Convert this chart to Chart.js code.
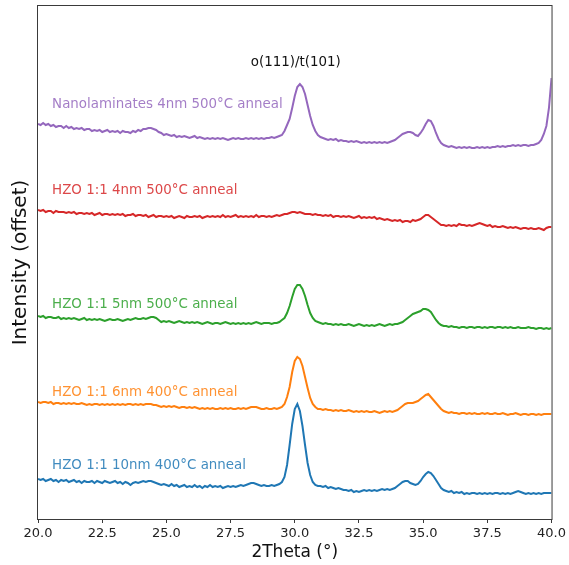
<!DOCTYPE html>
<html>
<head>
<meta charset="utf-8">
<script src="https://cdn.jsdelivr.net/npm/chart.js@4.4.1/dist/chart.umd.min.js"></script>
<style>
html,body{margin:0;padding:0;background:#fff;}
#wrap{width:569px;height:565px;}
</style>
</head>
<body>
<div id="wrap"><canvas id="c" width="569" height="565"></canvas></div>
<script>
// 2Theta sampling grid (degrees), 20.0 .. 40.0 every 0.1
const twoTheta = [];
for (let i = 0; i <= 200; i++) twoTheta.push(+(20 + i * 0.1).toFixed(1));

// x-axis tick labels
const xTickLabels = ['20.0','22.5','25.0','27.5','30.0','32.5','35.0','37.5','40.0'];

// Series names
const seriesNames = [
  'HZO 1:1 10nm 400°C anneal',
  'HZO 1:1 6nm 400°C anneal',
  'HZO 1:1 5nm 500°C anneal',
  'HZO 1:1 4nm 500°C anneal',
  'Nanolaminates 4nm 500°C anneal'
];

// Offset intensities (arbitrary units), one value per 0.1° step
const hzo10nm400 = [
 38,37,38,36,37,38,36,37,35,37,
 36,37,35,36,37,35,36,34,36,35,
 35,36,34,36,35,34,36,35,34,35,
 36,34,35,33,35,34,32,34,35,34,
 35,36,35,36,36,35,34,33,32,33,
 32,31,33,31,32,30,31,32,30,31,
 30,32,30,31,29,31,30,32,30,31,
 30,31,29,30,31,30,31,30,31,32,
 31,32,33,34,34,33,32,31,32,31,
 31,32,31,32,33,35,40,52,72,93,
 108,113,106,91,72,54,42,35,32,31,
 31,30,31,29,30,29,28,29,28,27,
 27,26,27,25,26,25,26,27,26,27,
 26,27,26,27,28,27,28,27,28,29,
 31,33,35,36,36,34,33,32,33,36,
 40,43,45,44,41,37,33,29,27,26,
 25,26,24,25,24,25,23,24,23,24,
 24,23,24,23,24,23,24,23,24,24,
 23,24,23,24,23,24,25,26,25,24,
 23,24,23,24,23,24,23,24,24,24,
 24
];
const hzo6nm400 = [
 115,114,115,115,114,115,113,114,114,113,
 114,113,114,113,114,113,113,114,113,112,
 113,112,113,113,112,113,112,113,112,113,
 112,113,112,113,112,113,113,112,113,112,
 113,112,113,113,113,112,112,111,110,111,
 110,111,110,111,110,109,110,110,109,110,
 109,110,109,108,109,108,109,108,109,108,
 108,109,108,109,108,109,108,108,109,108,
 109,108,109,110,110,110,109,108,108,109,
 108,108,109,108,109,110,113,120,130,145,
 156,160,158,151,140,129,119,113,110,108,
 108,107,108,107,107,106,107,106,107,106,
 106,107,106,105,106,105,106,105,106,105,
 105,106,105,104,105,106,105,106,105,106,
 107,109,111,113,114,114,114,115,116,118,
 120,122,123,120,117,114,111,108,106,105,
 104,105,104,104,103,104,104,103,104,103,
 104,103,103,104,103,104,103,103,104,103,
 103,104,103,102,103,103,104,103,102,103,
 103,102,103,103,102,103,102,103,103,103,
 103
];
const hzo5nm500 = [
 201,200,201,199,200,200,199,199,200,198,
 199,198,199,198,199,198,197,198,199,197,
 198,197,198,197,198,197,196,197,198,197,
 197,198,197,196,197,198,197,198,199,198,
 198,199,198,199,200,200,199,197,195,196,
 195,196,195,194,195,196,195,194,195,194,
 195,194,195,194,193,194,195,194,193,194,
 194,193,194,195,194,193,194,193,194,193,
 194,193,194,193,194,195,194,193,194,194,
 194,193,194,194,195,197,199,204,211,220,
 228,232,232,228,221,212,204,199,196,195,
 194,193,194,193,193,192,193,192,193,192,
 192,193,192,191,192,193,192,191,192,191,
 192,191,192,193,192,191,192,193,192,193,
 193,194,195,197,199,201,203,204,205,206,
 208,208,207,205,201,197,194,192,191,191,
 190,191,190,190,189,190,190,189,190,190,
 189,190,190,189,190,189,190,190,189,190,
 190,189,190,189,190,189,189,190,189,189,
 189,190,189,189,188,189,189,188,189,188,
 189
];
const hzo4nm500 = [
 307,306,307,305,306,306,304,306,305,305,
 305,304,305,304,305,303,304,304,303,304,
 303,304,302,303,304,302,303,303,302,303,
 302,303,302,303,301,302,302,303,301,302,
 302,301,302,300,301,302,300,301,301,300,
 301,300,301,299,300,301,300,299,301,300,
 300,301,300,301,299,300,301,300,301,300,
 301,300,302,300,301,300,301,302,300,301,
 300,301,300,301,300,302,300,301,301,300,
 301,300,301,302,301,302,303,303,304,305,
 305,304,305,304,303,303,303,302,303,302,
 302,301,302,301,302,300,301,301,300,301,
 300,301,300,299,300,301,299,300,299,300,
 299,300,298,299,298,297,298,297,296,297,
 296,297,295,296,296,295,297,296,297,298,
 300,302,302,300,298,296,294,292,292,291,
 292,291,292,291,293,292,292,291,292,291,
 292,293,294,293,292,291,292,290,291,290,
 290,291,290,289,290,289,290,289,288,289,
 289,288,289,288,288,289,288,287,289,290,
 290
];
const nanolam4nm500 = [
 393,392,394,392,393,391,392,390,391,391,
 389,391,389,390,388,389,388,389,387,388,
 388,386,387,386,387,385,386,387,385,386,
 385,386,384,386,385,385,384,386,385,387,
 386,388,388,389,389,388,387,385,384,382,
 383,382,381,382,380,381,380,381,380,379,
 380,381,379,380,379,378,379,378,379,378,
 379,378,379,378,377,378,379,378,379,378,
 378,379,378,379,378,379,378,379,378,379,
 379,380,379,380,381,382,386,392,398,409,
 421,430,433,430,423,412,401,392,386,382,
 380,379,378,377,378,377,378,376,377,376,
 376,375,376,375,376,375,374,375,374,375,
 374,375,374,375,374,375,374,375,376,377,
 379,381,383,384,385,385,384,382,381,384,
 388,393,397,396,391,384,378,374,372,371,
 370,371,370,369,370,369,370,369,370,369,
 369,370,369,370,369,370,369,370,370,371,
 370,371,370,371,371,372,371,372,371,372,
 372,371,372,372,373,374,377,383,391,409,
 439
];

const seriesValues = [hzo10nm400, hzo6nm400, hzo5nm500, hzo4nm500, nanolam4nm500];
const seriesColors = ['#1f77b4', '#ff7f0e', '#2ca02c', '#d62728', '#9467bd'];
const labelColors = ['rgba(31,119,180,0.85)','rgba(255,127,14,0.85)','rgba(44,160,44,0.85)','rgba(214,39,40,0.85)','rgba(148,103,189,0.85)'];

// Text annotations anchored in data coordinates
const peakLabel = 'o(111)/t(101)';
const peakLabelAnchor = {x: 30.04, y: 454.5};
const seriesLabelX = 20.55;
const seriesLabelY = [51, 124.5, 212, 326, 412];

const datasets = seriesValues.map((vals, k) => ({
  label: seriesNames[k],
  data: vals.map((v, i) => ({x: twoTheta[i], y: v})),
  borderColor: seriesColors[k],
  backgroundColor: seriesColors[k],
  borderWidth: 2,
  pointRadius: 0,
  tension: 0,
  fill: false
}));

const framePlugin = {
  id: 'frameAndText',
  afterDatasetsDraw(chart) {
    const {ctx, chartArea: a, scales: {x, y}} = chart;
    ctx.save();
    ctx.strokeStyle = '#3a3a3a';
    ctx.lineWidth = 1;
    ctx.strokeRect(a.left - 0.5, a.top - 0.5, a.right - a.left + 1, a.bottom - a.top + 1);
    ctx.font = '13.4px "DejaVu Sans"';
    ctx.textBaseline = 'middle';
    ctx.textAlign = 'left';
    seriesNames.forEach((name, k) => {
      ctx.fillStyle = labelColors[k];
      ctx.fillText(name, x.getPixelForValue(seriesLabelX), y.getPixelForValue(seriesLabelY[k]));
    });
    ctx.textAlign = 'center';
    ctx.fillStyle = '#111';
    ctx.fillText(peakLabel, x.getPixelForValue(peakLabelAnchor.x), y.getPixelForValue(peakLabelAnchor.y));
    ctx.restore();
  }
};

new Chart(document.getElementById('c'), {
  type: 'line',
  data: {datasets},
  plugins: [framePlugin],
  options: {
    responsive: false,
    animation: false,
    devicePixelRatio: 1,
    layout: {padding: {top: 6, right: 17, left: 0, bottom: 0}},
    plugins: {legend: {display: false}, tooltip: {enabled: false}},
    scales: {
      x: {
        type: 'linear', min: 20, max: 40,
        ticks: {
          stepSize: 2.5, autoSkip: false, maxRotation: 0, padding: 3,
          color: '#222', font: {family: 'DejaVu Sans', size: 13},
          callback: (v) => { const s = Number(v).toFixed(1); return xTickLabels.includes(s) ? s : ''; }
        },
        grid: {display: true, drawOnChartArea: false, drawTicks: true, tickLength: 4, tickColor: '#3a3a3a', tickWidth: 1},
        border: {display: false},
        title: {display: true, text: '2Theta (°)', color: '#111', font: {family: 'DejaVu Sans', size: 17}, padding: {top: 0, bottom: 2}},
        afterFit(s) { s.height = 46; }
      },
      y: {
        type: 'linear', min: -2, max: 511,
        ticks: {display: false},
        grid: {display: false},
        border: {display: false},
        title: {display: true, text: 'Intensity (offset)', color: '#111', font: {family: 'DejaVu Sans', size: 20}, padding: {top: 9, bottom: 0}},
        afterFit(s) { s.width = 38; }
      }
    }
  }
});
</script>
</body>
</html>
